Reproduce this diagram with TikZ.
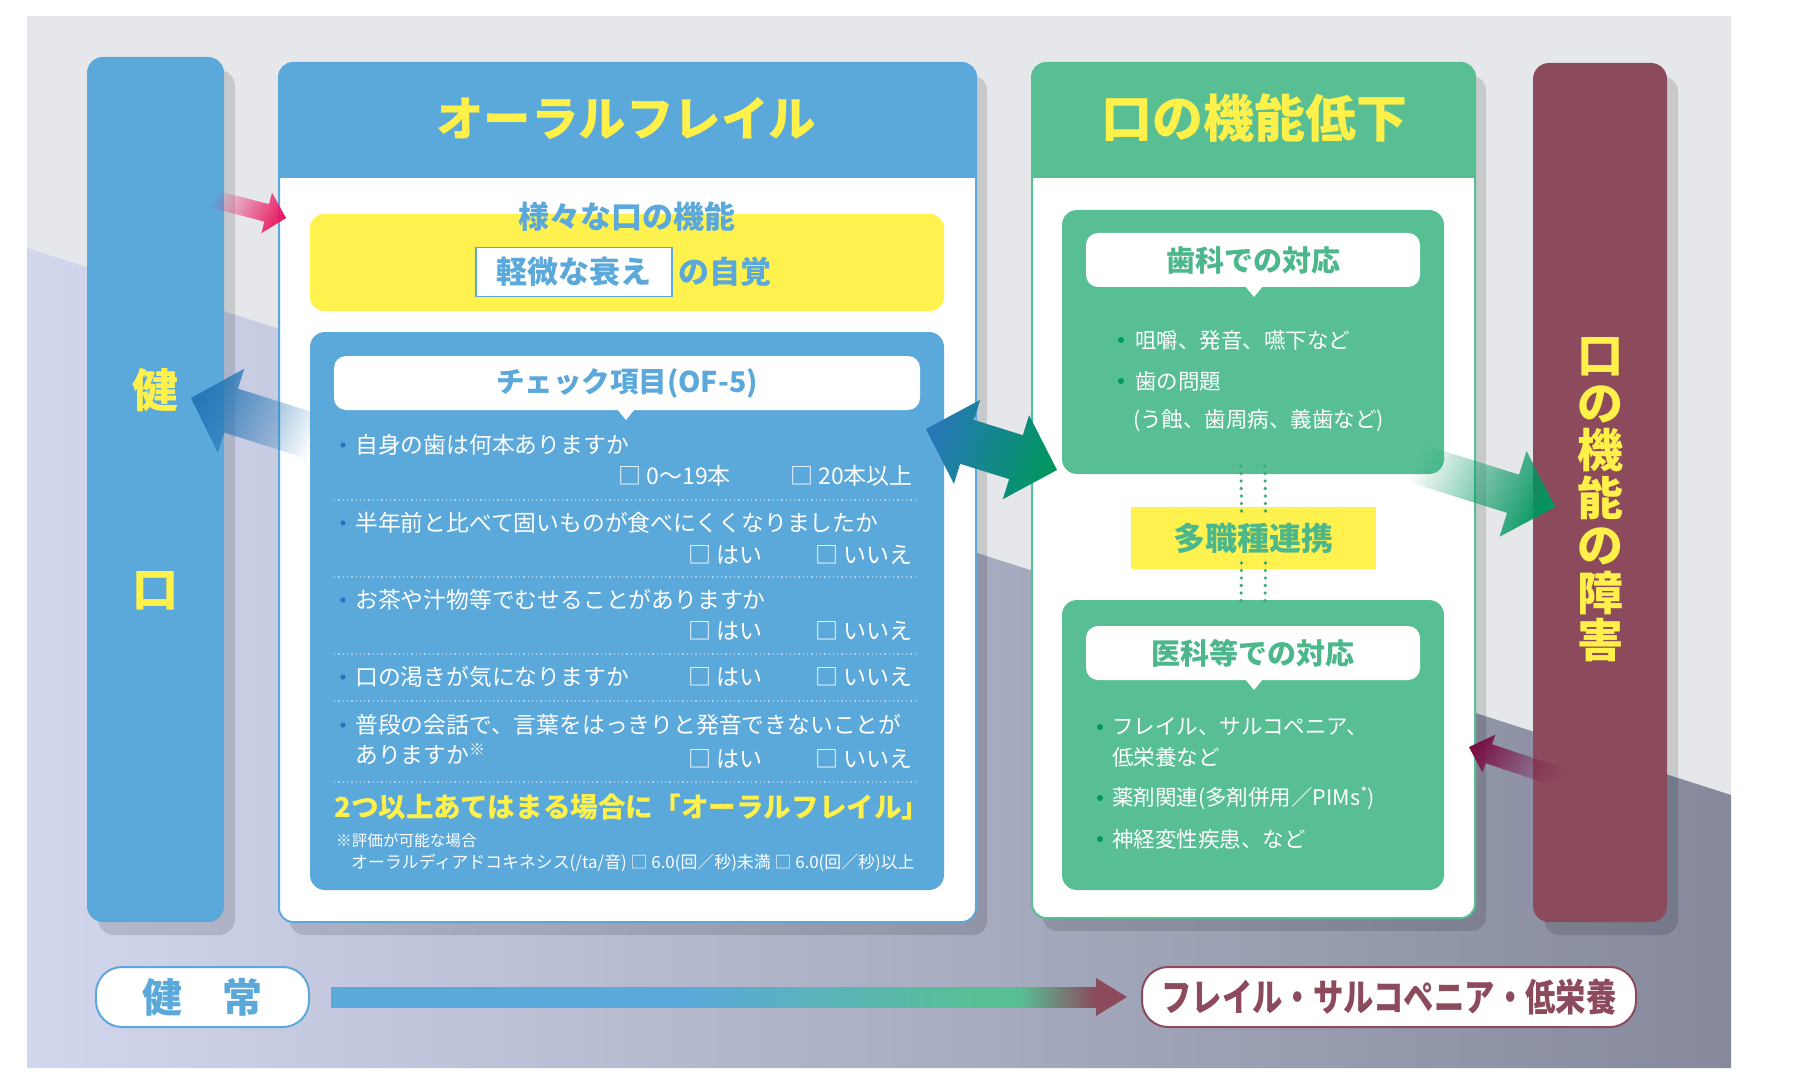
\documentclass[tikz,border=0pt]{standalone}
\usepackage{fontspec}
\setmainfont{Noto Sans CJK JP}
\usetikzlibrary{calc,fadings,shadows}
\definecolor{cBgTop}{HTML}{E6E7EA}
\definecolor{cBgL}{HTML}{D3D7EE}
\definecolor{cBgR}{HTML}{85899B}
\definecolor{cBlue}{HTML}{5BA8DB}
\definecolor{cBlueD}{HTML}{2777B7}
\definecolor{cGreen}{HTML}{58BF95}
\definecolor{cGreenT}{HTML}{4CB78B}
\definecolor{cGreenM}{HTML}{3AA87A}
\definecolor{cGreenD}{HTML}{00975F}
\definecolor{cYel}{HTML}{FFF24F}
\definecolor{cYelT}{HTML}{FFF04A}
\definecolor{cMar}{HTML}{8C4A5D}
\definecolor{cMarD}{HTML}{7A1046}
\definecolor{cPink}{HTML}{EA1660}
\definecolor{cDotB}{HTML}{A4D0EE}
\pgfdeclarehorizontalshading{barshade}{100bp}{color(0bp)=(cBlue); color(25bp)=(cBlue); color(48bp)=(cBlue); color(67bp)=(cGreen); color(70bp)=(cGreen); color(75bp)=(cMar); color(100bp)=(cMar)}
\tikzfading[name=tailfade, left color=transparent!100, right color=transparent!0]
\newcommand\fatarrow[6]{%
  \coordinate (fab) at ($(#3)!#6!(#2)$);
  \path[#1] ($(#2)!#4!90:(#3)$) -- ($(fab)!#4!90:(#3)$) -- ($(fab)!#5!90:(#3)$) -- (#3)
    -- ($(fab)!#5!-90:(#3)$) -- ($(fab)!#4!-90:(#3)$) -- ($(#2)!#4!-90:(#3)$) -- cycle;}
\tikzset{
  shad/.style={drop shadow={shadow xshift=11pt, shadow yshift=-13pt, fill=black, opacity=0.13}},
  boxnw/.style={anchor=north west, inner sep=0, outer sep=0},
  item/.style={inner sep=0, anchor=west, text=white, font=\fontsize{22.8}{27}\selectfont},
  opt/.style={inner sep=0, anchor=east, text=white, font=\fontsize{23}{27}\selectfont},
  gitem/.style={inner sep=0, anchor=west, text=white, font=\fontsize{21.5}{26}\selectfont},
  sepline/.style={cDotB, line width=1.3, dash pattern=on 1.3pt off 3pt},
  dotline/.style={cGreenM, line width=3.6, dash pattern=on 0pt off 7.5pt, line cap=round},
  calltxt/.style={inner sep=0, font=\fontsize{29}{34}\selectfont\bfseries, text=cGreenT},
}
\begin{document}
\begin{tikzpicture}[x=1pt,y=-1pt]
\useasboundingbox (0,0) rectangle (1800,1078);
\fill[white] (0,0) rectangle (1800,1078);
% background
\fill[cBgTop] (27,16) rectangle (1731,1068);
\shade[left color=cBgL, right color=cBgR] (27,248) -- (1731,795) -- (1731,1068) -- (27,1068) -- cycle;

% left column
\node[boxnw, shad, fill=cBlue, rounded corners=16, minimum width=137, minimum height=865] (colL) at (87,57) {};
\node[inner sep=0, text=cYelT, font=\fontsize{46}{50}\selectfont\bfseries] (kenL) at (155,390) {健};
\node[inner sep=0, text=cYelT, font=\fontsize{46}{50}\selectfont\bfseries] (kuchiL) at (155,591) {口};

% oral frail box
\node[boxnw, shad, fill=white, rounded corners=14, minimum width=697, minimum height=859] (ofbox) at (279,63) {};
\fill[cBlue, rounded corners=14] (279,63) rectangle (976,178);
\fill[cBlue] (279,150) rectangle (976,178);
\draw[cBlue, line width=2, rounded corners=14] (279,63) rectangle (976,922);
\node[inner sep=0, text=cYelT, font=\fontsize{47.5}{52}\selectfont\bfseries] (oftitle) at (626,118) {オーラルフレイル};

\node[boxnw, fill=cYel, rounded corners=14, minimum width=634, minimum height=97] (yelbox) at (310,214) {};
\node[inner sep=0, text=cBlue, font=\fontsize{31}{35}\selectfont\bfseries] (various) at (627,217) {様々な口の機能};
\node[fill=white, draw=cBlue, line width=1.5, minimum width=196, minimum height=49, inner sep=0, text=cBlue, font=\fontsize{31}{35}\selectfont\bfseries] (mild) at (574,272) {軽微な衰え};
\node[inner sep=0, anchor=west, text=cBlue, font=\fontsize{31}{35}\selectfont\bfseries] (aware) at ([xshift=6]mild.east) {の自覚};

% blue arrow to 健口 (under check box)
\coordinate (bT) at (318,438);
\coordinate (bH) at (191,398);
\fatarrow{fill=cBlueD, path fading=tailfade, fading angle=162.4}{bT}{bH}{23pt}{44pt}{42pt}

% check box
\node[boxnw, fill=cBlue, rounded corners=15, minimum width=634, minimum height=558] (chk) at (310,332) {};
\node[boxnw, fill=white, rounded corners=12, minimum width=586, minimum height=54] (chkcall) at (334,356) {};
\fill[white] (617,409) -- (635,409) -- (626,420) -- cycle;
\node[inner sep=0, text=cBlue, font=\fontsize{28.5}{33}\selectfont\bfseries] (chktitle) at (627,383) {チェック項目(OF-5)};

\foreach \yy in {445,523,600,677,725} \fill[cBlueD] (343,\yy) circle (2.6);
\node[item] (q1) at (355,445) {自身の歯は何本ありますか};
\node[opt] (q1a) at (731,476) {□ 0〜19本};
\node[opt] (q1b) at (913,476) {□ 20本以上};
\node[item] (q2) at (355,523) {半年前と比べて固いものが食べにくくなりましたか};
\node[opt] (q2a) at (763,555) {□ はい};
\node[opt] (q2b) at (913,555) {□ いいえ};
\node[item] (q3) at (355,600) {お茶や汁物等でむせることがありますか};
\node[opt] (q3a) at (763,631) {□ はい};
\node[opt] (q3b) at (913,631) {□ いいえ};
\node[item] (q4) at (355,677) {口の渇きが気になりますか};
\node[opt] (q4a) at (763,677) {□ はい};
\node[opt] (q4b) at (913,677) {□ いいえ};
\node[item] (q5) at (355,725) {普段の会話で、言葉をはっきりと発音できないことが};
\node[item] (q5l) at (355,754) {ありますか\textsuperscript{※}};
\node[opt] (q5a) at (763,759) {□ はい};
\node[opt] (q5b) at (913,759) {□ いいえ};
\foreach \yy in {500,577,654,701,782} \draw[sepline] (334,\yy) -- (918,\yy);
\node[inner sep=0, anchor=west, text=cYelT, font=\fontsize{27.6}{32}\selectfont\bfseries] (rule) at (334,807) {2つ以上あてはまる場合に「オーラルフレイル」};
\node[inner sep=0, anchor=west, text=white, font=\fontsize{15.6}{18}\selectfont] (note1) at (336,841) {※評価が可能な場合};
\node[inner sep=0, anchor=west, text=white, font=\fontsize{16.9}{19}\selectfont] (note2) at (351,863) {オーラルディアドコキネシス(/ta/音) □ 6.0(回／秒)未満 □ 6.0(回／秒)以上};

% green box
\node[boxnw, shad, fill=white, rounded corners=14, minimum width=443, minimum height=855] (grbox) at (1032,63) {};
\fill[cGreen, rounded corners=14] (1032,63) rectangle (1475,178);
\fill[cGreen] (1032,150) rectangle (1475,178);
\draw[cGreen, line width=2, rounded corners=14] (1032,63) rectangle (1475,918);
\node[inner sep=0, text=cYelT, font=\fontsize{51}{55}\selectfont\bfseries] (grtitle) at (1254,118) {口の機能低下};

\node[boxnw, fill=cGreen, rounded corners=15, minimum width=382, minimum height=264] (dent) at (1062,210) {};
\node[boxnw, fill=white, rounded corners=12, minimum width=334, minimum height=54] (dentcall) at (1086,233) {};
\fill[white] (1245,286) -- (1263,286) -- (1254,297) -- cycle;
\node[calltxt] (denttxt) at (1253,260) {歯科での対応};
\fill[cGreenD] (1121,340) circle (3);
\fill[cGreenD] (1121,381) circle (3);
\node[gitem] (d1) at (1135,340) {咀嚼、発音、嚥下など};
\node[gitem] (d2) at (1135,381) {歯の問題};
\node[gitem] (d3) at (1133,421) {(う蝕、歯周病、義歯など)};

\node[boxnw, fill=cYel, minimum width=245, minimum height=62, text=cGreenT, font=\fontsize{32}{36}\selectfont\bfseries] (tashoku) at (1131,507) {多職種連携};
\node[boxnw, fill=cGreen, rounded corners=15, minimum width=382, minimum height=290] (med) at (1062,600) {};
\draw[dotline] ([xshift=-12,yshift=8]dent.south) -- ([xshift=-12,yshift=-4]tashoku.north);
\draw[dotline] ([xshift=12,yshift=8]dent.south) -- ([xshift=12,yshift=-4]tashoku.north);
\draw[dotline] ([xshift=-12,yshift=6]tashoku.south) -- ([xshift=-12,yshift=-4]med.north);
\draw[dotline] ([xshift=12,yshift=6]tashoku.south) -- ([xshift=12,yshift=-4]med.north);
\node[boxnw, fill=white, rounded corners=12, minimum width=334, minimum height=54] (medcall) at (1086,626) {};
\fill[white] (1245,679) -- (1263,679) -- (1254,690) -- cycle;
\node[calltxt] (medtxt) at (1253,653) {医科等での対応};
\foreach \yy in {727,798,839} \fill[cGreenD] (1100,\yy) circle (3);
\node[gitem] (m1) at (1112,727) {フレイル、サルコペニア、};
\node[gitem] (m1b) at (1112,757) {低栄養など};
\node[gitem] (m2) at (1112,798) {薬剤関連(多剤併用／PIMs\textsuperscript{*})};
\node[gitem] (m3) at (1112,839) {神経変性疾患、など};

% right column
\node[boxnw, shad, fill=cMar, rounded corners=16, minimum width=134, minimum height=859] (colR) at (1533,63) {};
\node[inner sep=0, align=center, text=cYelT, font=\fontsize{46}{47.5}\selectfont\bfseries] (disorder) at (1600,500) {口\\の\\機\\能\\の\\障\\害};

% bottom
\node[boxnw, fill=white, draw=cBlue, line width=2, rounded corners=26, minimum width=213, minimum height=60] (healthy) at (96,967) {};
\node[inner sep=0, text=cBlue, font=\fontsize{40}{44}\selectfont\bfseries] at (healthy.center) {健　常};
\node[boxnw, fill=white, draw=cMar, line width=2, rounded corners=26, minimum width=494, minimum height=60] (frail) at (1142,967) {};
\node[inner sep=0, text=cMar, font=\fontsize{38}{42}\selectfont\bfseries] at (frail.center) {\scalebox{0.8}[1]{フレイル・サルコペニア・低栄養}};
\coordinate (barS) at ([xshift=22]healthy.east);
\coordinate (barE) at ([xshift=-46]frail.west);
\shade[shading=barshade] ([yshift=-10]barS) rectangle ([yshift=10]barE);
\fill[cMar] ([yshift=-19]barE) -- ([xshift=31]barE) -- ([yshift=19]barE) -- cycle;

% arrows on top
\coordinate (pT) at (210,198);
\coordinate (pH) at (286,218);
\fatarrow{fill=cPink, path fading=tailfade, fading angle=-15.5}{pT}{pH}{9pt}{21pt}{20pt}

\coordinate (dA) at (926,429);
\coordinate (dB) at (1057,470);
\coordinate (dbA) at ($(dA)!43pt!(dB)$);
\coordinate (dbB) at ($(dB)!43pt!(dA)$);
\shade[top color=cBlueD, bottom color=cGreenD, shading angle=72.6]
  (dA) -- ($(dbA)!44pt!90:(dB)$) -- ($(dbA)!23pt!90:(dB)$) -- ($(dbB)!23pt!90:(dB)$) -- ($(dbB)!44pt!90:(dB)$)
  -- (dB) -- ($(dbB)!44pt!-90:(dB)$) -- ($(dbB)!23pt!-90:(dB)$) -- ($(dbA)!23pt!-90:(dB)$) -- ($(dbA)!44pt!-90:(dB)$) -- cycle;

\coordinate (gT) at (1412,462);
\coordinate (gH) at (1555,507);
\fatarrow{fill=cGreenD, path fading=tailfade, fading angle=-17}{gT}{gH}{20pt}{45pt}{44pt}

\coordinate (mT) at (1564,779);
\coordinate (mH) at (1469,747);
\fatarrow{fill=cMarD, path fading=tailfade, fading angle=161.4}{mT}{mH}{10pt}{20pt}{21pt}
\end{tikzpicture}
\end{document}
